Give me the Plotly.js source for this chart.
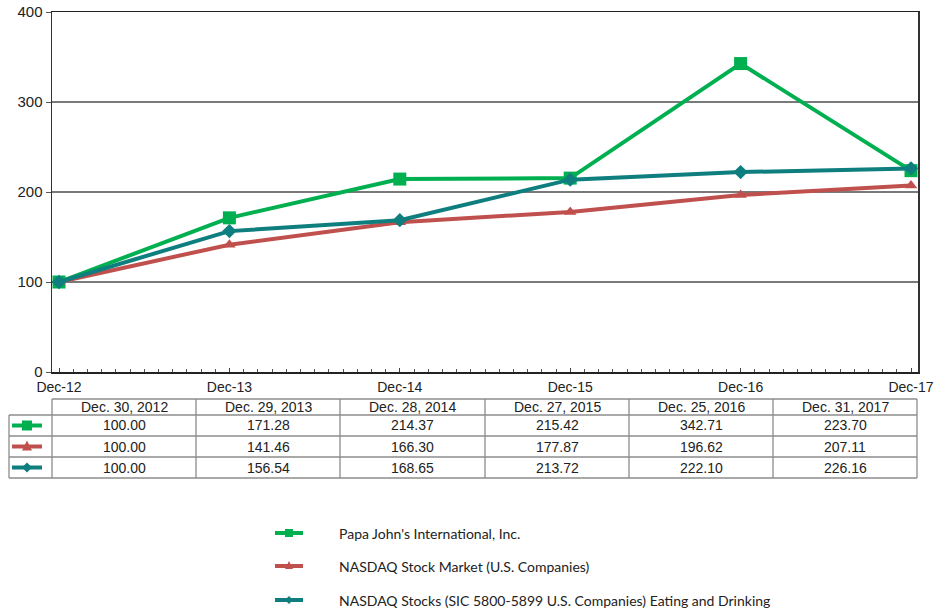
<!DOCTYPE html>
<html><head><meta charset="utf-8">
<script src="https://cdn.plot.ly/plotly-3.0.1.min.js"></script>
<style>html,body{margin:0;padding:0;background:#fff}#chart{width:939px;height:613px}</style>
</head><body><div id="chart"></div>
<script>
const periods = ["Dec-12","Dec-13","Dec-14","Dec-15","Dec-16","Dec-17"];
const tableDates = ["Dec. 30, 2012","Dec. 29, 2013","Dec. 28, 2014","Dec. 27, 2015","Dec. 25, 2016","Dec. 31, 2017"];
const papaJohns = [100.00,171.28,214.37,215.42,342.71,223.70];
const nasdaqMarket = [100.00,141.46,166.30,177.87,196.62,207.11];
const nasdaqEating = [100.00,156.54,168.65,213.72,222.10,226.16];
const seriesNames = ["Papa John's International, Inc.","NASDAQ Stock Market (U.S. Companies)","NASDAQ Stocks (SIC 5800-5899 U.S. Companies) Eating and Drinking"];

const colors = ["#00B050","#C0504D","#0E7E7E"];
const symbols = ["square","triangle-up","diamond"];
const msize = [13,11,11];
const allSeries = [papaJohns, nasdaqMarket, nasdaqEating];
const xIdx = periods.map((_, i) => i);

const traces = allSeries.map((vals, k) => ({
  type: "scatter", mode: "lines+markers", x: xIdx, y: vals, name: seriesNames[k],
  line: {color: colors[k], width: 4},
  marker: {color: colors[k], symbol: symbols[k], size: msize[k]},
  showlegend: false
}));

// plot area in pixels
const L = 52, R = 918, T = 12, B = 372;
const px = x => (x - L) / (R - L);
const py = y => (B - y) / (B - T);

const shapes = [];
const annotations = [];
const gridC = "#7a7a7a";
const tableC = "#8c8c8c";
function hline(x0,x1,y){shapes.push({type:"line",xref:"paper",yref:"paper",x0:px(x0),x1:px(x1),y0:py(y),y1:py(y),line:{color:tableC,width:1.3}});}
function vline(x,y0,y1){shapes.push({type:"line",xref:"paper",yref:"paper",x0:px(x),x1:px(x),y0:py(y0),y1:py(y1),line:{color:tableC,width:1.3}});}

function icon(k, x0, x1, cy, s){
  const cx = (x0 + x1) / 2;
  shapes.push({type:"line",xref:"paper",yref:"paper",x0:px(x0),x1:px(x1),y0:py(cy),y1:py(cy),line:{color:colors[k],width:4}});
  let p;
  if (k===0){ p=`M${px(cx-s)},${py(cy-s)} L${px(cx+s)},${py(cy-s)} L${px(cx+s)},${py(cy+s)} L${px(cx-s)},${py(cy+s)} Z`; }
  else if (k===1){ p=`M${px(cx)},${py(cy-s-1)} L${px(cx+s)},${py(cy+s-1)} L${px(cx-s)},${py(cy+s-1)} Z`; }
  else { p=`M${px(cx)},${py(cy-s)} L${px(cx+s)},${py(cy)} L${px(cx)},${py(cy+s)} L${px(cx-s)},${py(cy)} Z`; }
  shapes.push({type:"path",xref:"paper",yref:"paper",path:p,fillcolor:colors[k],line:{color:colors[k],width:0}});
}

const colX = [52,196,340,485,629,773,917];
const rowY = [399,415,436,457,478];
const leftX = 9;
hline(colX[0], colX[6], rowY[0]);
hline(leftX, colX[6], rowY[1]);
hline(leftX, colX[6], rowY[2]);
hline(leftX, colX[6], rowY[3]);
hline(leftX, colX[6], rowY[4]);
vline(leftX, rowY[1], rowY[4]);
colX.forEach(x => vline(x, rowY[0], rowY[4]));

const tfont = {family:"Liberation Sans, Arial, sans-serif", size:14, color:"#222"};
tableDates.forEach((d,i)=>{
  annotations.push({xref:"paper",yref:"paper",x:px((colX[i]+colX[i+1])/2),y:py((rowY[0]+rowY[1])/2),text:d,showarrow:false,font:tfont,xanchor:"center",yanchor:"middle"});
});
allSeries.forEach((vals,k)=>{
  const cy = (rowY[k+1]+rowY[k+2])/2;
  vals.forEach((v,i)=>{
    annotations.push({xref:"paper",yref:"paper",x:px((colX[i]+colX[i+1])/2),y:py(cy),text:v.toFixed(2),showarrow:false,font:tfont,xanchor:"center",yanchor:"middle"});
  });
  icon(k, 12, 42, cy, 5);
});

// legend (drawn manually)
const legY = [533, 566, 600];
const lfont = {family:"Lato, Carlito, sans-serif", size:14, color:"#222"};
seriesNames.forEach((n,k)=>{
  icon(k, 275, 303, legY[k], 4);
  annotations.push({xref:"paper",yref:"paper",x:px(337),y:py(legY[k]),text:n,showarrow:false,font:lfont,xanchor:"left",yanchor:"middle"});
});

const unit = (911 - 59) / 5;
const layout = {
  width: 939, height: 613,
  margin: {l: L, r: 939 - R, t: T, b: 613 - B, autoexpand: false},
  paper_bgcolor: "#fff", plot_bgcolor: "#fff",
  showlegend: false,
  xaxis: {
    range: [-(59 - L) / unit, 5 + (R - 911) / unit], tickvals: xIdx, ticktext: periods,
    showgrid: false, zeroline: false, showline: true, linecolor: "#222", linewidth: 1.5, mirror: true,
    ticks: "inside", ticklen: 4, tickcolor: "#444",
    minor: {dtick: 1/12, tick0: 0, ticks: "inside", ticklen: 3, tickcolor: "#555"},
    tickfont: {family:"Liberation Sans, Arial, sans-serif", size:14, color:"#222"},
    ticklabelstandoff: 2, fixedrange: true
  },
  yaxis: {
    range: [0, 400], tickvals: [0,100,200,300,400],
    showgrid: true, gridcolor: gridC, gridwidth: 1.3, zeroline: false,
    showline: true, linecolor: "#333", linewidth: 1.5, mirror: true,
    ticks: "outside", ticklen: 5, tickcolor: "#555",
    tickfont: {family:"Liberation Sans, Arial, sans-serif", size:15, color:"#222"},
    fixedrange: true
  },
  shapes: shapes, annotations: annotations
};
Plotly.newPlot("chart", traces, layout, {displayModeBar:false, staticPlot:true});
</script></body></html>
